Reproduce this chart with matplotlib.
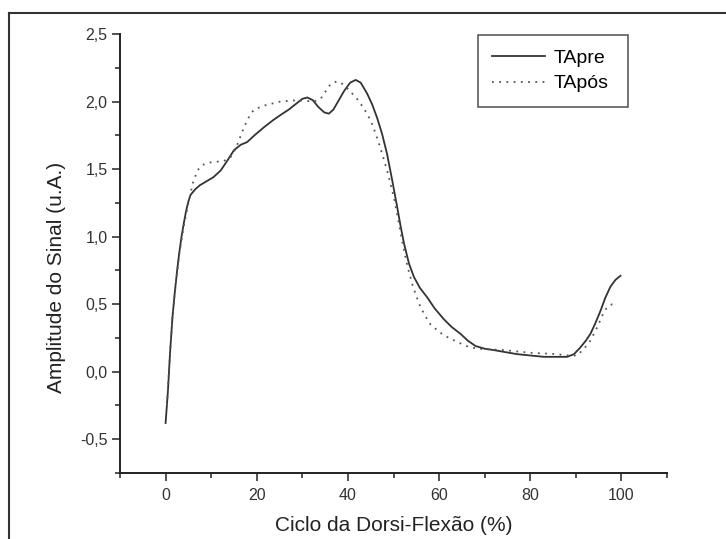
import numpy as np
import matplotlib
matplotlib.use("Agg")
import matplotlib.pyplot as plt
from matplotlib.lines import Line2D
from matplotlib.ticker import MultipleLocator, FuncFormatter

plt.rcParams['font.family'] = ['Liberation Sans', 'DejaVu Sans']

# Curva TApre (linha contínua)
pre_x = [0, 0.5, 1.0, 1.5, 2.0, 2.5, 3.0, 3.5, 4.0, 4.5, 5.0, 5.5, 6.5, 7.5, 9.0,
         10.5, 12.1, 13.5, 15.0, 16.5, 17.9, 19.5, 21.6, 23.5, 25.2, 27.0, 28.5,
         30.0, 31.1, 32.3, 33.5, 34.8, 35.8, 36.8, 38.0, 39.2, 40.5, 41.7, 42.8,
         44.2, 45.3, 46.4, 47.5, 48.6, 49.7, 50.8, 51.6, 52.3, 53.4, 54.5, 55.8,
         57.4, 59.0, 61.0, 62.8, 64.7, 66.3, 68.0, 70.0, 72.0, 74.5, 77.1, 80.0,
         83.0, 85.5, 88.1, 89.6, 91.0, 92.2, 93.2, 94.3, 95.4, 96.5, 97.6, 98.7,
         99.8]
pre_y = [-0.38, -0.15, 0.15, 0.40, 0.58, 0.74, 0.88, 1.00, 1.10, 1.19, 1.26, 1.31,
         1.35, 1.38, 1.41, 1.44, 1.49, 1.56, 1.64, 1.68, 1.70, 1.75, 1.81, 1.86,
         1.90, 1.94, 1.98, 2.02, 2.03, 2.01, 1.96, 1.92, 1.91, 1.94, 2.01, 2.08,
         2.14, 2.16, 2.14, 2.06, 1.98, 1.88, 1.76, 1.61, 1.42, 1.22, 1.07, 0.95,
         0.80, 0.70, 0.62, 0.55, 0.47, 0.39, 0.33, 0.28, 0.23, 0.19, 0.17, 0.16,
         0.145, 0.13, 0.12, 0.11, 0.11, 0.11, 0.13, 0.18, 0.23, 0.28, 0.36, 0.45,
         0.55, 0.63, 0.68, 0.71]

# Curva TApós (pontilhada)
pos_x = [0.3, 1.0, 1.5, 2.0, 3.0, 4.0, 5.0, 6.0, 7.0, 8.0, 9.9, 12.8, 14.3, 15.5,
         17.2, 18.5, 19.4, 21.6, 25.2, 28.9, 32.5, 34.0, 35.2, 36.2, 37.6, 38.8,
         39.8, 42.0, 43.5, 45.0, 46.0, 47.1, 48.6, 50.1, 51.0, 52.0, 53.0, 54.1,
         55.0, 55.9, 57.0, 58.1, 59.5, 61.0, 64.0, 66.0, 68.4, 74.2, 80.0, 85.9,
         88.0, 90.3, 91.8, 93.2, 94.7, 96.0, 96.9, 98.0, 99.1]
pos_y = [-0.25, 0.15, 0.40, 0.58, 0.87, 1.08, 1.25, 1.40, 1.49, 1.53, 1.55, 1.56,
         1.59, 1.66, 1.81, 1.90, 1.94, 1.97, 2.00, 2.01, 2.00, 2.02, 2.08, 2.13,
         2.15, 2.13, 2.10, 2.02, 1.95, 1.86, 1.77, 1.66, 1.49, 1.29, 1.13, 0.95,
         0.79, 0.65, 0.56, 0.48, 0.41, 0.35, 0.31, 0.27, 0.22, 0.19, 0.17, 0.16,
         0.14, 0.13, 0.12, 0.12, 0.17, 0.23, 0.33, 0.43, 0.48, 0.50, 0.51]

fig = plt.figure(figsize=(7.26, 5.39), dpi=100)
ax = fig.add_axes([120/726, 66/539, 547/726, 439/539])

ax.plot(pre_x, pre_y, color="#333333", lw=1.3, label="TApre")
ax.plot(pos_x, pos_y, color="#555555", lw=1.3, linestyle=(0, (1, 3)), label="TApós")

ax.set_xlim(-10, 110)
ax.set_ylim(-0.75, 2.5)
ax.xaxis.set_major_locator(MultipleLocator(20))
ax.xaxis.set_minor_locator(MultipleLocator(10))
ax.yaxis.set_major_locator(MultipleLocator(0.5))
ax.yaxis.set_minor_locator(MultipleLocator(0.25))
ax.xaxis.set_major_formatter(FuncFormatter(lambda v, p: "%d" % v))
ax.yaxis.set_major_formatter(FuncFormatter(lambda v, p: ("%.1f" % v).replace(".", ",")))

for s in ["top", "right"]:
    ax.spines[s].set_visible(False)
for s in ["left", "bottom"]:
    ax.spines[s].set_linewidth(1.4)
    ax.spines[s].set_color("#222222")

ax.tick_params(which="major", length=6, width=1.2, labelsize=11.5, colors="#333333", pad=3)
ax.tick_params(which="minor", length=3.5, width=1.2, colors="#333333")
ax.tick_params(axis="x", pad=5)

ax.set_xlabel("Ciclo da Dorsi-Flexão (%)", fontsize=15, color="#222222")
ax.set_ylabel("Amplitude do Sinal (u.A.)", fontsize=15, color="#222222")
ax.xaxis.set_label_coords(0.5, -0.097)
ax.yaxis.set_label_coords(-0.099, 0.446)

leg = ax.legend(loc="upper left", bbox_to_anchor=(0.654, 0.998, 0.275, 0.0),
                mode="expand", fontsize=14, frameon=True, fancybox=False,
                handlelength=2.7, handletextpad=0.45, borderpad=0.75,
                labelspacing=0.4, borderaxespad=0)
leg.get_frame().set_edgecolor("#333333")
leg.get_frame().set_linewidth(1.2)

# moldura externa da figura
fig.add_artist(Line2D([9/726, 9/726], [0, 1 - 13/539], transform=fig.transFigure,
                      color="#333333", lw=1.5))
fig.add_artist(Line2D([9/726, 1], [1 - 13/539, 1 - 13/539], transform=fig.transFigure,
                      color="#333333", lw=1.5))

fig.savefig("out.png", dpi=100)
